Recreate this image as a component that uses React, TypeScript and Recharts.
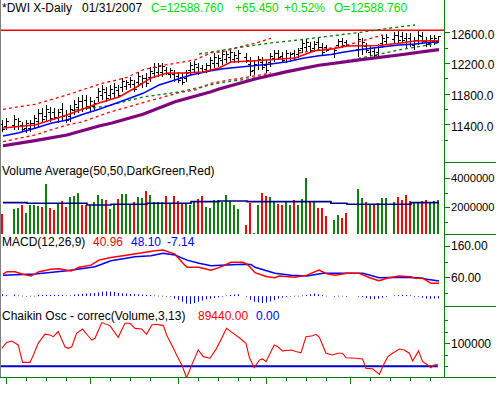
import React from 'react';
import { ComposedChart, Bar, Line, XAxis, YAxis, ReferenceLine } from 'recharts';

const FONT = '"Liberation Sans", Arial, Helvetica, sans-serif';
const AXIS_GREEN = '#008000';
const VOL_GREEN = '#0b800b';
const RED = '#ff0000';
const BLUE = '#0000ff';
const X_DOMAIN: [number, number] = [-0.75, 110.25];

// one slot per weekday, Aug 31 2006 .. Jan 31 2007; null = market closed
const high = [
  11457, 11479, null, 11522, 11479, 11435, 11457, 11457, 11522, 11596,
  11609, 11653, 11622, 11609, 11596, 11674, 11587, 11653, 11718, 11761,
  11783, 11783, 11761, 11718, 11870, 11913, 11891, 11913, 11935, 11913,
  12000, 11978, 12022, 11978, 12087, 12043, 12065, 12152, 12195, 12204,
  12195, 12152, 12130, 12109, 12087, 12074, 12109, 12217, 12230, 12195,
  12174, 12195, 12282, 12326, 12304, 12369, 12360, 12378, 12347, 12369,
  null, 12326, 12282, 12239, 12291, 12282, 12239, 12326, 12369, 12369,
  12347, 12369, 12347, 12369, 12391, 12500, 12508, 12478, 12491, 12521,
  12456, 12434, null, 12391, 12508, 12521, 12500, null, null, 12586,
  12521, 12456, 12421, 12391, 12447, 12565, 12578, null, 12608, 12621,
  12608, 12595, 12586, 12543, 12617, 12608, 12543, 12565, 12565, 12552,
];
const low = [
  11305, 11327, null, 11327, 11327, 11305, 11283, 11305, 11349, 11370,
  11414, 11435, 11435, 11457, 11414, 11457, 11414, 11435, 11522, 11544,
  11566, 11587, 11566, 11587, 11696, 11718, 11696, 11718, 11740, 11740,
  11826, 11848, 11870, 11826, 11891, 11870, 11891, 11957, 12000, 12022,
  12013, 12043, 12000, 11957, 11935, 11913, 11957, 12043, 12065, 12043,
  12065, 12065, 12109, 12130, 12152, 12174, 12195, 12217, 12195, 12204,
  null, 12195, 12030, 12040, 12109, 12109, 12065, 12152, 12217, 12239,
  12195, 12195, 12217, 12239, 12261, 12326, 12347, 12326, 12347, 12369,
  12304, 12347, null, 12261, 12391, 12391, 12413, null, null, 12282,
  12304, 12326, 12291, 12282, 12282, 12391, 12434, null, 12456, 12456,
  12465, 12391, 12413, 12369, 12434, 12447, 12413, 12413, 12434, 12465,
];
const open = [
  11404, 11380, null, 11395, 11380, 11390, 11344, 11358, 11410, 11449,
  11541, 11511, 11557, 11556, 11478, 11598, 11526, 11511, 11591, 11620,
  11707, 11714, 11634, 11633, 11757, 11786, 11823, 11786, 11808, 11852,
  11887, 11894, 11923, 11925, 11960, 11931, 12004, 12025, 12068, 12086,
  12077, 12114, 12046, 12056, 12034, 12018, 12010, 12104, 12123, 12142,
  12136, 12111, 12170, 12199, 12205, 12242, 12253, 12273, 12248, 12262,
  null, 12280, 12194, 12110, 12173, 12221, 12178, 12213, 12270, 12324,
  12294, 12256, 12263, 12324, 12307, 12387, 12403, 12425, 12397, 12468,
  12403, 12404, null, 12307, 12432, 12476, 12470, null, null, 12388,
  12380, 12411, 12337, 12353, 12340, 12452, 12484, null, 12509, 12563,
  12558, 12524, 12525, 12430, 12498, 12552, 12497, 12466, 12480, 12495,
];
const close = [
  11343, 11441, null, 11473, 11441, 11338, 11414, 11419, 11479, 11540,
  11463, 11599, 11482, 11495, 11551, 11511, 11457, 11599, 11669, 11707,
  11620, 11636, 11712, 11685, 11827, 11864, 11745, 11864, 11886, 11783,
  11957, 11946, 11984, 11864, 12038, 12000, 11935, 12103, 12146, 12159,
  12150, 12070, 12098, 11995, 11973, 11953, 12071, 12174, 12189, 12081,
  12092, 12163, 12239, 12277, 12266, 12320, 12319, 12338, 12309, 12328,
  null, 12228, 12093, 12189, 12246, 12152, 12109, 12283, 12331, 12272,
  12233, 12326, 12315, 12272, 12359, 12457, 12468, 12364, 12455, 12407,
  12342, 12369, null, 12359, 12479, 12424, 12435, null, null, 12510,
  12467, 12359, 12389, 12309, 12406, 12522, 12542, null, 12570, 12497,
  12501, 12442, 12456, 12500, 12571, 12487, 12446, 12527, 12532, 12550,
];
const volume = [
  1540000, null, null, 1900000, 1930000, 2160000, 1590000, 2140000, 2160000, 2110000,
  2040000, 3610000, 1930000, 1790000, 2230000, 2430000, 2020000, 2690000, 2800000, 2970000,
  2160000, 2160000, 2160000, 2340000, 2850000, 2550000, 2500000, 1860000, 2210000, 2570000,
  2900000, 2900000, 2210000, 2340000, 2690000, 2620000, 3120000, 2850000, 2390000, 2340000,
  2340000, 2780000, 2280000, 2780000, 2430000, 2280000, 2210000, 2160000, 2340000, 2550000,
  2780000, 2040000, 1930000, 2500000, 2500000, 2390000, 2850000, 2430000, 2160000, 1860000,
  null, 780000, 2320000, 250000, 2160000, 2970000, 2780000, 2690000, 2340000, 2230000,
  2160000, 2430000, 2160000, 2500000, 2160000, 2570000, 4040000, 2340000, 2340000, 1970000,
  1970000, 1420000, null, 1120000, 1470000, 1280000, 1610000, null, null, 3260000,
  2620000, 2390000, 2210000, 2210000, 2280000, 2660000, 2620000, null, 2390000, 2730000,
  2520000, 2850000, 2460000, 2390000, 2280000, 2460000, 2520000, 2390000, 2460000, 2500000,
];
// G = up day, R = down day
const volDir = ('RG-GGRGGGG' + 'RGRRGRRGGG' + 'RRGGGGRGGR' + 'GGGRGGRGGG' + 'GRGRRRGGGR' +
  'RGGGGGGGGG' + '-RRGGRRGGR' + 'RGGRGGGRGR' + 'RR-GGRR--G' + 'GRGRGGG-GR' + 'RRRGGRRGGG').split('');
const macdHist = [
  6, 3, null, 5, 2, 1, -1, 1, 1, 4,
  4, 4, 4, 4, 4, 4, 2, 2, 5, 6,
  7, 8, 9, 10, 12, 14, 15, 14, 13, 10,
  9, 8, 7, 6, 6, 5, 4, 3, 2, 1,
  1, 0, -2, -8, -12, -18, -24, -25, -22, -18,
  -14, -10, -8, -6, -4, -1, 2, 4, 5, 6,
  null, -2, -12, -18, -20, -22, -20, -17, -13, -8,
  -5, -3, -1, 1, 1, 2, 4, 6, 8, 6,
  3, 1, null, 0, 1, 1, 0, null, null, 0,
  -3, -6, -9, -10, -8, -5, -2, null, 2, 3,
  4, 3, 2, 0, -2, -5, -8, -9, -8, -7,
];

// overlay lines read at sample slots: [slot, value]
const maFast: [number, number][] = [[0, 11353], [8, 11392], [16, 11522], [24, 11679], [29, 11757], [33, 11874], [37, 12005], [41, 12070], [45, 12070], [50, 12083], [54, 12135], [57, 12213], [62, 12226], [66, 12239], [73, 12265], [78, 12360], [82, 12379], [86, 12422], [94, 12428], [99, 12457], [103, 12487], [109, 12491]];
const maMid: [number, number][] = [[0, 11249], [4, 11292], [8, 11349], [12, 11414], [16, 11457], [20, 11532], [24, 11597], [27, 11653], [31, 11727], [35, 11805], [39, 11913], [43, 11978], [47, 12044], [52, 12100], [55, 12125], [60, 12152], [67, 12187], [71, 12217], [75, 12261], [79, 12295], [82, 12311], [85, 12339], [90, 12378], [94, 12405], [99, 12435], [103, 12448], [107, 12470], [109, 12470]];
const maSlow: [number, number][] = [[0, 11122], [8, 11188], [16, 11262], [24, 11379], [27, 11414], [35, 11532], [43, 11696], [52, 11826], [54, 11861], [63, 11992], [71, 12087], [79, 12170], [82, 12190], [90, 12248], [99, 12304], [107, 12360], [109, 12373]];
const redUpperA: [number, number][] = [[0, 11597], [8, 11662], [16, 11783], [24, 11922], [31, 12014], [35, 12109], [39, 12161], [44, 12204], [48, 12239], [52, 12334], [55, 12347], [60, 12421], [63, 12457], [67, 12522]];
const redUpperB: [number, number][] = [[74, 12330], [82, 12395], [85, 12421], [90, 12491], [95, 12565]];
const redLower: [number, number][] = [[0, 11175], [8, 11262], [12, 11327], [16, 11392], [20, 11435], [24, 11509], [27, 11565], [31, 11623], [35, 11683], [39, 11740], [44, 11813], [48, 11848], [52, 11935], [55, 11965], [63, 12031], [67, 12070]];
const greenUpper: [number, number][] = [[49, 12317], [58, 12395], [67, 12461], [74, 12500], [82, 12552], [90, 12604], [97, 12656], [103, 12695]];
const greenLower: [number, number][] = [[18, 11588], [26, 11640], [35, 11757], [44, 11822], [54, 11939], [63, 12005], [71, 12083], [79, 12174], [87, 12239], [93, 12304], [99, 12369], [109, 12461]];
const resistance = 12626;

const volAvg: [number, number][] = [[0, 2320000], [6, 2280000], [21, 2160000], [27, 2210000], [36, 2280000], [47, 2390000], [54, 2430000], [61, 2390000], [82, 2280000], [86, 2210000], [102, 2320000], [109, 2320000]];

const macdLine: [number, number][] = [[0, 70], [1, 78], [3, 78], [5, 70], [7, 64], [9, 78], [12, 86], [14, 87], [17, 80], [19, 92], [22, 99], [24, 115], [27, 123], [30, 129], [34, 137], [38, 145], [40, 147], [43, 134], [45, 105], [46, 92], [49, 92], [52, 83], [54, 91], [57, 108], [60, 108], [61, 102], [62, 90], [63, 75], [66, 62], [68, 59], [69, 64], [73, 60], [76, 67], [79, 83], [81, 71], [83, 67], [86, 73], [89, 73], [92, 57], [94, 49], [96, 57], [99, 64], [102, 62], [103, 57], [105, 57], [107, 41], [109, 41]];
const macdSignal: [number, number][] = [[0, 67], [8, 71], [16, 81], [23, 94], [27, 113], [33, 126], [37, 129], [40, 137], [43, 131], [46, 115], [49, 105], [52, 97], [56, 99], [60, 102], [62, 101], [63, 92], [68, 73], [72, 67], [76, 64], [80, 73], [86, 73], [90, 73], [94, 59], [99, 60], [104, 59], [106, 54], [109, 48]];

const chaikin: [number, number][] = [[-0.3, 78000], [0.9, 104000], [2.2, 110000], [3.8, 93000], [4.9, 17000], [6.75, 17000], [7.6, 49000], [8.8, 100000], [10.5, 140000], [11.75, 136000], [12.6, 129000], [13.8, 151000], [15.5, 85000], [16.3, 78000], [17.2, 85000], [18.4, 143000], [19.9, 162000], [21.1, 136000], [22.2, 114000], [23, 122000], [24.7, 190000], [26.75, 177000], [28.8, 126000], [30.5, 187000], [31.75, 187000], [33, 165000], [34.7, 162000], [35.9, 139000], [37.2, 180000], [38.4, 183000], [40.1, 177000], [40.9, 136000], [42.2, 93000], [43.4, 49000], [44.7, 6000], [45.9, -50000], [47.2, 6000], [48.8, 71000], [50.1, 42000], [51.75, 35000], [53.4, 78000], [55.9, 165000], [57.6, 143000], [59.25, 122000], [60.75, 100000], [61.6, 38000], [62.8, -6000], [64.1, 27000], [64.9, 32000], [65.75, 20000], [67.8, 93000], [68.7, 85000], [69.9, 67000], [72, 71000], [73.25, 64000], [74.5, 59000], [75.75, 129000], [77.4, 133000], [78.25, 139000], [79.1, 126000], [80.75, 57000], [82.4, 49000], [83.7, 57000], [84.9, 57000], [85.75, 37000], [88.25, 35000], [89.9, 32000], [90.75, -9000], [92.4, -11000], [94.1, -35000], [94.9, -2000], [96.2, 42000], [97.4, 57000], [99.1, 75000], [100.3, 71000], [101.6, 57000], [102.4, 23000], [103.9, 67000], [104.9, 20000], [106.2, 6000], [107, -6000], [107.8, 6000], [108.7, 9000]];
const chaikinZero: [number, number][] = [[-0.75, 0], [108.7, 0]];

const monthTicks = [1, 22, 44, 66, 87];
const monthLabels = ['Sep', 'Oct', 'Nov', 'Dec', '07'];
const weekTicks = [6, 11, 16, 27, 32, 37, 49, 54, 59, 62, 71, 76, 81, 92, 97, 102, 107];

const priceLabels: Record<number, string> = { 12600: '12600.0', 12200: '12200.0', 11800: '11800.0', 11400: '11400.0' };
const priceMinor = [12400, 12000, 11600, 11200];
const volLabels: Record<number, string> = { 4000000: '4000000', 2000000: '2000000' };
const volMinor = [3000000, 1000000];
const macdLabels: Record<number, string> = { 160: '160.00', 60: '60.00' };
const macdMinor = [110, 10];
const chaikinLabels: Record<number, string> = { 100000: '100000' };
const chaikinMinor = [200000, 150000, 50000, 0];

function put(rows: any[], key: string, pts: [number, number][]) {
  pts.forEach(([i, v]) => { rows[i][key] = v; });
}

const priceRows: any[] = high.map((h, i) => ({
  x: i,
  hl: h == null ? null : [low[i], h],
  o: open[i],
  c: close[i],
}));
put(priceRows, 'fast', maFast);
put(priceRows, 'mid', maMid);
put(priceRows, 'slow', maSlow);
put(priceRows, 'ruA', redUpperA);
put(priceRows, 'ruB', redUpperB);
put(priceRows, 'rl', redLower);
put(priceRows, 'gu', greenUpper);
put(priceRows, 'gl', greenLower);

const volRows: any[] = volume.map((v, i) => ({ x: i, vol: v, dir: volDir[i] }));
put(volRows, 'avg', volAvg);

const macdRows: any[] = macdHist.map((h, i) => ({ x: i, hist: h }));
put(macdRows, 'macd', macdLine);
put(macdRows, 'sig', macdSignal);

const chaikinRows: any[] = [
  ...chaikin.map(([x, v]) => ({ x, ch: v })),
  ...chaikinZero.map(([x, v]) => ({ x, z: v })),
].sort((a, b) => a.x - b.x);

function colOf(x: number, width: number) {
  return Math.floor(x + width / 2 - 0.01);
}

const OhlcShape = (props: any) => {
  const { x, width, y, height, payload } = props;
  if (!payload || payload.hl == null || y == null) return <g />;
  const [lo, hi] = payload.hl;
  const cx = colOf(x, width);
  const top = Math.round(Math.min(y, y + height));
  const bot = Math.round(Math.max(y, y + height));
  const span = hi - lo || 1;
  const yo = Math.round(top + ((hi - payload.o) / span) * (bot - top));
  const yc = Math.round(top + ((hi - payload.c) / span) * (bot - top));
  return (
    <g>
      <rect x={cx} y={top} width={1} height={Math.max(1, bot - top)} fill="#000" />
      <rect x={cx - 2} y={yo} width={2} height={1} fill="#000" />
      <rect x={cx + 1} y={yc} width={2} height={1} fill="#000" />
    </g>
  );
};

const VolShape = (props: any) => {
  const { x, width, y, height, payload } = props;
  if (!payload || payload.vol == null || y == null) return <g />;
  const cx = colOf(x, width);
  const top = Math.round(Math.min(y, y + height));
  const bot = Math.round(Math.max(y, y + height));
  return <rect x={cx - 1} y={top} width={2} height={Math.max(1, bot - top)} fill={payload.dir === 'G' ? VOL_GREEN : RED} />;
};

const HistShape = (props: any) => {
  const { x, width, y, height, payload } = props;
  if (!payload || payload.hist == null || y == null) return <g />;
  const cx = colOf(x, width);
  const top = Math.min(y, y + height);
  const h = Math.abs(height);
  return <rect x={cx} y={top} width={1} height={Math.max(0.6, h)} fill={BLUE} />;
};

function rightTick(labels: Record<number, string>, dy = 0, size = 12) {
  return (props: any) => {
    const { x, y, payload } = props;
    const label = labels[payload.value];
    const ly = Math.round(y) + 0.5;
    return (
      <g>
        <line x1={x} x2={x + (label ? 6 : 4)} y1={ly} y2={ly} stroke={AXIS_GREEN} strokeWidth={1} />
        {label && (
          <text x={x + 7} y={y + dy} dy="0.36em" fontSize={size} fontFamily={FONT} fill="#000">{label}</text>
        )}
      </g>
    );
  };
}

const DateTick = (props: any) => {
  const { x, y, payload } = props;
  const m = monthTicks.indexOf(payload.value);
  const px = Math.round(x) - 0.5;
  return (
    <g>
      <line x1={px} x2={px} y1={y} y2={y + (m >= 0 ? 6 : 3)} stroke={AXIS_GREEN} strokeWidth={1} />
      {m >= 0 && (
        <text x={px + 1} y={388} fontSize={11.5} fontFamily={FONT} fill="#000">{monthLabels[m]}</text>
      )}
    </g>
  );
};

const yAxisCommon = {
  orientation: 'right' as const,
  width: 52,
  type: 'number' as const,
  interval: 0 as const,
  tickLine: false,
  axisLine: false,
  tickSize: 0,
  tickMargin: 0,
  allowDataOverflow: true,
};

const M = { top: 0, right: 0, bottom: 0, left: 0 };

function Panel({ top, height, children }: { top: number; height: number; children: React.ReactNode }) {
  return <div style={{ position: 'absolute', left: 0, top, width: 496, height }}>{children}</div>;
}

function Txt({ x, y, color = '#000', children }: { x: number; y: number; color?: string; children: React.ReactNode }) {
  return <text x={x} y={y} fill={color} fontSize={12} fontFamily={FONT}>{children}</text>;
}

export default function App() {
  return (
    <div style={{ position: 'absolute', left: 0, top: 0, width: 496, height: 395, background: '#fff', overflow: 'hidden' }}>
      {/* price */}
      <Panel top={20} height={142}>
        <ComposedChart width={496} height={142} data={priceRows} margin={M}>
          <XAxis dataKey="x" type="number" domain={X_DOMAIN} hide allowDataOverflow />
          <YAxis {...yAxisCommon} domain={[10910, 12760]}
            ticks={[...Object.keys(priceLabels).map(Number), ...priceMinor]} tick={rightTick(priceLabels, 2)} />
          <ReferenceLine y={resistance} stroke={RED} strokeWidth={1.5} />
          <Line dataKey="ruA" stroke={RED} strokeWidth={1.3} strokeDasharray="3 3" dot={false} connectNulls isAnimationActive={false} />
          <Line dataKey="ruB" stroke={RED} strokeWidth={1.3} strokeDasharray="3 3" dot={false} connectNulls isAnimationActive={false} />
          <Line dataKey="rl" stroke={RED} strokeWidth={1.3} strokeDasharray="3 3" dot={false} connectNulls isAnimationActive={false} />
          <Line dataKey="gu" stroke={AXIS_GREEN} strokeWidth={1.3} strokeDasharray="3 3" dot={false} connectNulls isAnimationActive={false} />
          <Line dataKey="gl" stroke={AXIS_GREEN} strokeWidth={1.3} strokeDasharray="3 3" dot={false} connectNulls isAnimationActive={false} />
          <Line dataKey="slow" stroke="#800080" strokeWidth={3.2} dot={false} connectNulls isAnimationActive={false} />
          <Line dataKey="mid" stroke={BLUE} strokeWidth={1.5} dot={false} connectNulls isAnimationActive={false} />
          <Line dataKey="fast" stroke={RED} strokeWidth={1.5} dot={false} connectNulls isAnimationActive={false} />
          <Bar dataKey="hl" barSize={1} shape={OhlcShape} isAnimationActive={false} />
        </ComposedChart>
      </Panel>

      {/* volume */}
      <Panel top={162} height={72}>
        <ComposedChart width={496} height={72} data={volRows} margin={M}>
          <XAxis dataKey="x" type="number" domain={X_DOMAIN} hide allowDataOverflow />
          <YAxis {...yAxisCommon} domain={[159000, 5124000]}
            ticks={[...Object.keys(volLabels).map(Number), ...volMinor]} tick={rightTick(volLabels, 0, 11.2)} />
          <Bar dataKey="vol" barSize={2} shape={VolShape} isAnimationActive={false} />
          <Line dataKey="avg" type="stepAfter" stroke="#000080" strokeWidth={1.6} dot={false} connectNulls isAnimationActive={false} />
        </ComposedChart>
      </Panel>

      {/* MACD */}
      <Panel top={234} height={72}>
        <ComposedChart width={496} height={72} data={macdRows} margin={M}>
          <XAxis dataKey="x" type="number" domain={X_DOMAIN} hide allowDataOverflow />
          <YAxis {...yAxisCommon} domain={[-31.6, 198.4]}
            ticks={[...Object.keys(macdLabels).map(Number), ...macdMinor]} tick={rightTick(macdLabels)} />
          <Bar dataKey="hist" barSize={1} shape={HistShape} isAnimationActive={false} />
          <Line dataKey="sig" stroke={BLUE} strokeWidth={1.5} dot={false} connectNulls isAnimationActive={false} />
          <Line dataKey="macd" stroke={RED} strokeWidth={1.5} dot={false} connectNulls isAnimationActive={false} />
        </ComposedChart>
      </Panel>

      {/* Chaikin */}
      <Panel top={306} height={89}>
        <ComposedChart width={496} height={89} data={chaikinRows} margin={M}>
          <XAxis dataKey="x" type="number" domain={X_DOMAIN} allowDataOverflow height={17}
            ticks={[...monthTicks, ...weekTicks].sort((a, b) => a - b)} interval={0}
            tickLine={false} axisLine={false} tickSize={0} tickMargin={0} tick={DateTick} />
          <YAxis {...yAxisCommon} domain={[-50900, 262200]}
            ticks={[...Object.keys(chaikinLabels).map(Number), ...chaikinMinor]} tick={rightTick(chaikinLabels)} />
          <Line dataKey="z" stroke="#0000cc" strokeWidth={2} dot={false} connectNulls isAnimationActive={false} />
          <Line dataKey="ch" stroke={RED} strokeWidth={1.1} dot={false} connectNulls isAnimationActive={false} />
        </ComposedChart>
      </Panel>

      {/* frame lines */}
      <div style={{ position: 'absolute', left: 0, top: 0, width: 1, height: 378, background: '#808080' }} />
      <div style={{ position: 'absolute', left: 444, top: 0, width: 1, height: 378, background: AXIS_GREEN }} />
      <div style={{ position: 'absolute', left: 0, top: 377, width: 496, height: 1, background: AXIS_GREEN }} />
      {[162, 234, 306].map(t => (
        <div key={t} style={{ position: 'absolute', left: 444, top: t, width: 52, height: 1, background: AXIS_GREEN }} />
      ))}

      {/* titles */}
      <svg width={496} height={395} style={{ position: 'absolute', left: 0, top: 0, pointerEvents: 'none' }}>
        <Txt x={2} y={12}>*DWI X-Daily</Txt>
        <Txt x={82} y={12}>01/31/2007</Txt>
        <Txt x={151} y={12} color="#00dd00">C=12588.760</Txt>
        <Txt x={235} y={12} color="#00dd00">+65.450</Txt>
        <Txt x={284} y={12} color="#00dd00">+0.52%</Txt>
        <Txt x={334} y={12} color="#00dd00">O=12588.760</Txt>

        <Txt x={2} y={175}>Volume Average(50,50,DarkGreen,Red)</Txt>

        <Txt x={2} y={246}>MACD(12,26,9)</Txt>
        <Txt x={93} y={246} color={RED}>40.96</Txt>
        <Txt x={131} y={246} color={BLUE}>48.10</Txt>
        <Txt x={167} y={246} color={BLUE}>-7.14</Txt>

        <Txt x={2} y={320}>Chaikin Osc - correc(Volume,3,13)</Txt>
        <Txt x={198} y={320} color={RED}>89440.00</Txt>
        <Txt x={256} y={320} color={BLUE}>0.00</Txt>
      </svg>
    </div>
  );
}
